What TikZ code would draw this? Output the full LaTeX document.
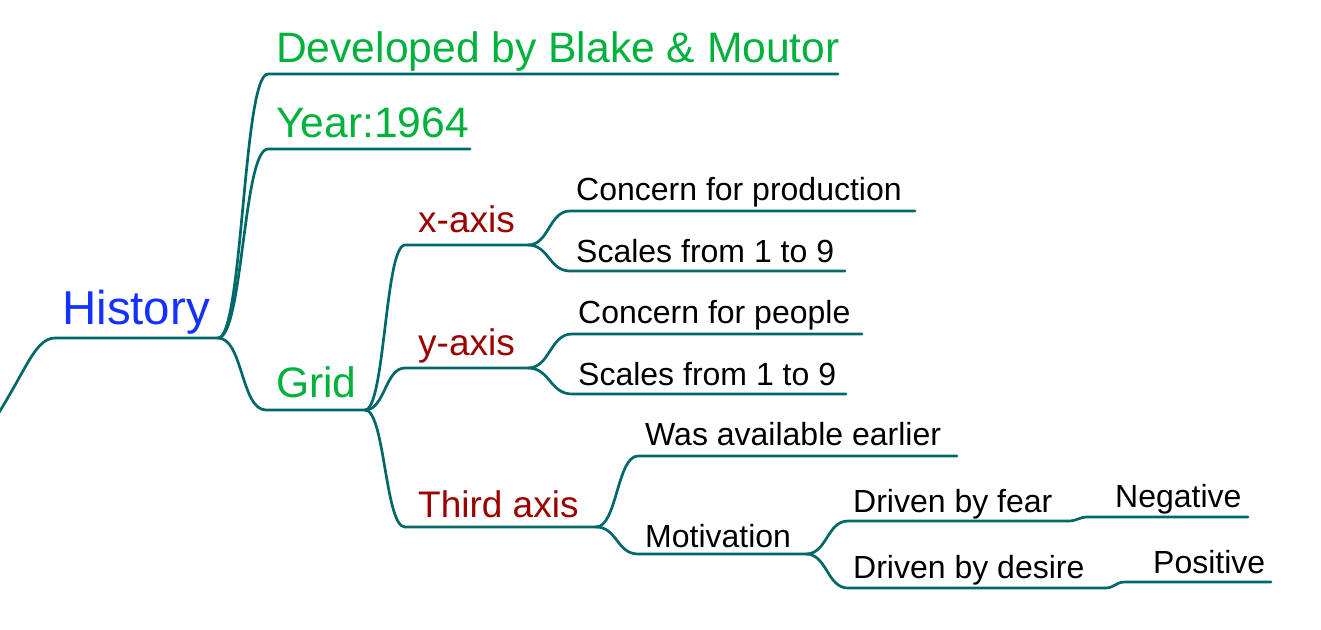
\documentclass[tikz,border=0pt]{standalone}
\usepackage{fontspec}
\setmainfont{Liberation Sans}
\definecolor{lnk}{RGB}{0,104,104}
\definecolor{grn}{RGB}{0,178,60}
\definecolor{blu}{RGB}{20,50,255}
\definecolor{dred}{RGB}{155,0,0}
\begin{document}
\begin{tikzpicture}[x=1pt,y=-1pt,
  conn/.style={draw=lnk,line width=2.7pt,line cap=round},
  lbl/.style={anchor=base west,inner sep=0pt},
  toplbl/.style={lbl,font=\fontsize{47.5}{50}\selectfont,text=blu},
  grnlbl/.style={lbl,font=\fontsize{42.6}{46}\selectfont,text=grn},
  redlbl/.style={lbl,font=\fontsize{37}{40}\selectfont,text=dred},
  blklbl/.style={lbl,font=\fontsize{32}{36}\selectfont,text=black}]
\useasboundingbox (0,0) rectangle (1321,629);

% coordinates of the underlines
\coordinate (in) at (-14,432);
\coordinate (hS) at (55,338);  \coordinate (hE) at (218,338);
\coordinate (dS) at (268,74);  \coordinate (dE) at (838,74);
\coordinate (yS) at (268,149); \coordinate (yE) at (470,149);
\coordinate (gS) at (266,410); \coordinate (gE) at (365,410);
\coordinate (xS) at (405,245); \coordinate (xE) at (528,245);
\coordinate (yaS) at (405,368); \coordinate (yaE) at (528,368);
\coordinate (tS) at (405,527); \coordinate (tE) at (596,527);
\coordinate (cpS) at (570,211); \coordinate (cpE) at (915,211);
\coordinate (s1S) at (570,271); \coordinate (s1E) at (845,271);
\coordinate (cqS) at (572,334); \coordinate (cqE) at (862,334);
\coordinate (s2S) at (572,394); \coordinate (s2E) at (846,394);
\coordinate (waS) at (638,456); \coordinate (waE) at (957,456);
\coordinate (mS) at (638,554); \coordinate (mE) at (806,554);
\coordinate (dfS) at (848,521); \coordinate (dfE) at (1068,521);
\coordinate (ddS) at (848,588); \coordinate (ddE) at (1105,588);
\coordinate (nS) at (1088,517); \coordinate (nE) at (1248,517);
\coordinate (pS) at (1125,582); \coordinate (pE) at (1271,582);

% labels
\node[toplbl] (h) at (62,324) {History};
\node[grnlbl] (d) at (276,62) {Developed by Blake \& Moutor};
\node[grnlbl] (yr) at (276,137) {Year:1964};
\node[grnlbl] (g) at (276,397) {Grid};
\node[redlbl] (x) at (418,232) {x-axis};
\node[redlbl] (ya) at (418,355) {y-axis};
\node[redlbl] (t) at (418,517) {Third axis};
\node[blklbl] (cp) at (576,200) {Concern for production};
\node[blklbl] (s1) at (576,262) {Scales from 1 to 9};
\node[blklbl] (cq) at (578,323) {Concern for people};
\node[blklbl] (s2) at (578,385) {Scales from 1 to 9};
\node[blklbl] (wa) at (645,445) {Was available earlier};
\node[blklbl] (m) at (645,547) {Motivation};
\node[blklbl] (df) at (853,512) {Driven by fear};
\node[blklbl] (dd) at (853,578) {Driven by desire};
\node[blklbl] (n) at (1115,507) {Negative};
\node[blklbl] (p) at (1153,573) {Positive};

% connectors
\draw[conn] (in) .. controls +(38,-54) and +(-22,0) .. (hS) -- (hE);
\draw[conn] (hE) .. controls +(25,0) and +(-25,0) .. (dS) -- (dE);
\draw[conn] (hE) .. controls +(25,0) and +(-25,0) .. (yS) -- (yE);
\draw[conn] (hE) .. controls +(25,0) and +(-25,0) .. (gS) -- (gE);
\draw[conn] (gE) .. controls +(20,0) and +(-20,0) .. (xS) -- (xE);
\draw[conn] (gE) .. controls +(20,0) and +(-20,0) .. (yaS) -- (yaE);
\draw[conn] (gE) .. controls +(20,0) and +(-20,0) .. (tS) -- (tE);
\draw[conn] (xE) .. controls +(21,0) and +(-21,0) .. (cpS) -- (cpE);
\draw[conn] (xE) .. controls +(21,0) and +(-21,0) .. (s1S) -- (s1E);
\draw[conn] (yaE) .. controls +(22,0) and +(-22,0) .. (cqS) -- (cqE);
\draw[conn] (yaE) .. controls +(22,0) and +(-22,0) .. (s2S) -- (s2E);
\draw[conn] (tE) .. controls +(21,0) and +(-21,0) .. (waS) -- (waE);
\draw[conn] (tE) .. controls +(21,0) and +(-21,0) .. (mS) -- (mE);
\draw[conn] (mE) .. controls +(21,0) and +(-21,0) .. (dfS) -- (dfE);
\draw[conn] (mE) .. controls +(21,0) and +(-21,0) .. (ddS) -- (ddE);
\draw[conn] (dfE) .. controls +(10,0) and +(-10,0) .. (nS) -- (nE);
\draw[conn] (ddE) .. controls +(10,0) and +(-10,0) .. (pS) -- (pE);
\end{tikzpicture}
\end{document}
